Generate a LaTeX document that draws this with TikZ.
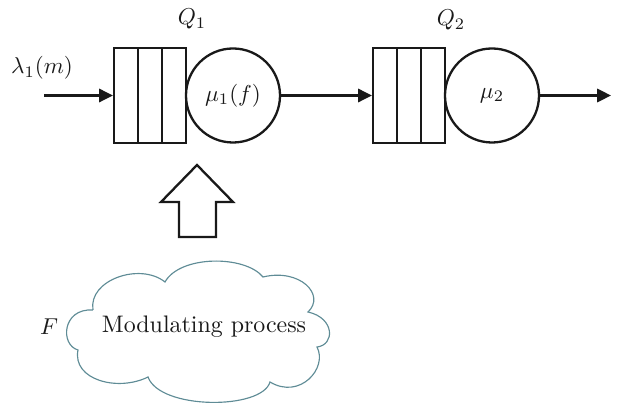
\documentclass[tikz,border=0pt]{standalone}
\usetikzlibrary{arrows.meta}
\definecolor{cloudcol}{RGB}{95,140,150}
\definecolor{inkcol}{RGB}{25,25,25}
\begin{document}
\begin{tikzpicture}[x=0.435pt,y=-0.435pt,
  every node/.style={font=\fontsize{10.4}{12.5}\selectfont},
  line/.style={draw=inkcol,line width=1pt},
  queuebox/.style={line,rectangle,minimum width=31.3pt,minimum height=41.3pt,inner sep=0pt},
  server/.style={line,circle,minimum size=40.9pt,inner sep=0pt,text=inkcol},
  flow/.style={line,-{Triangle[length=6pt,width=5.8pt]}},
  lbl/.style={text=inkcol,inner sep=0pt},
  cloudline/.style={draw=cloudcol,line width=0.5pt}]
\useasboundingbox (0,0) rectangle (628,407);
% queue 1
\node[queuebox] (q1) at (150,95.5) {};
\draw[line] (138,48) -- (138,143);
\draw[line] (162,48) -- (162,143);
\node[server] (c1) at (233,95.5) {$\mu_1(f)$};
% queue 2
\node[queuebox] (q2) at (409,95.5) {};
\draw[line] (397,48) -- (397,143);
\draw[line] (421,48) -- (421,143);
\node[server] (c2) at (492,95.5) {$\mu_2$};
% labels
\node[lbl] (lam) at (42,68) {$\lambda_1(m)$};
\node[lbl] (Q1) at (192,19) {$Q_1$};
\node[lbl] (Q2) at (451,20) {$Q_2$};
% connectors
\coordinate (in) at (44,95.5);
\coordinate (out) at (611,95.5);
\draw[flow] (in) -- (q1.west);
\draw[flow] (c1.east) -- (q2.west);
\draw[flow] (c2.east) -- (out);
% block arrow
\draw[line,fill=white] (179,237) -- (179,202) -- (161,202) -- (197,165) -- (233,202) -- (216,202) -- (216,237) -- cycle;
% cloud outline
\draw[cloudline]
  (93,310) .. controls (62,308) and (60,345) .. (78,350)
  .. controls (72,380) and (118,392) .. (148,377)
  .. controls (160,410) and (262,410) .. (270,382)
  .. controls (300,400) and (328,368) .. (317,347)
  .. controls (335,345) and (335,318) .. (308,312)
  .. controls (326,295) and (300,268) .. (263,277)
  .. controls (245,255) and (180,255) .. (165,282)
  .. controls (140,262) and (88,280) .. (93,310);
\node[text=inkcol] (mod) at (204,327) {Modulating process};
\node[lbl] (F) at (49,327) {$F$};
\end{tikzpicture}
\end{document}
